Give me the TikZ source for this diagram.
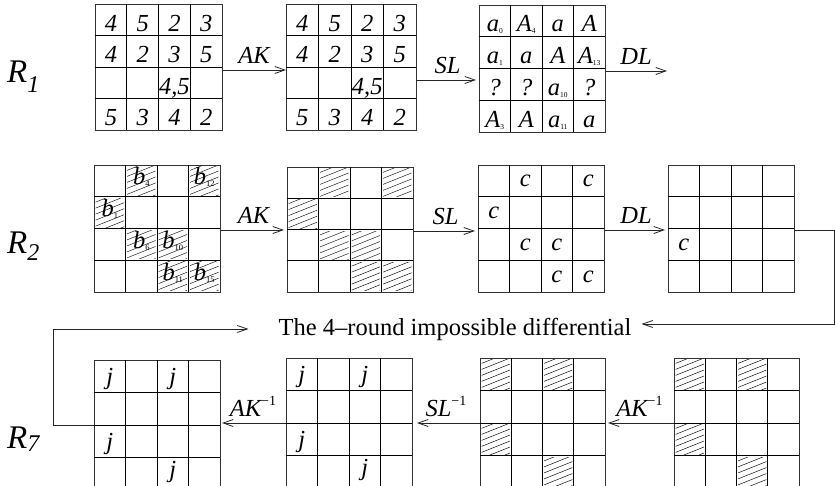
\documentclass[tikz,border=0pt]{standalone}
\usepackage{fontspec}
\setmainfont{Liberation Serif}
\usetikzlibrary{arrows.meta}

\newcommand\cellfont{\fontsize{24.5}{26}\selectfont\itshape}
\newcommand\sbs[1]{\raisebox{-0.08em}{\fontsize{7.5}{8}\selectfont\upshape #1}}
\newcommand\sbb[1]{\raisebox{-0.08em}{\fontsize{8.5}{9}\selectfont\upshape #1}}
\newcommand\spm[1]{\raisebox{0.42em}{\fontsize{14}{14}\selectfont\upshape #1}}

\tikzset{
  gridframe/.style={draw=black!80, line width=0.9pt, inner sep=0pt, outer sep=0pt},
  gridline/.style={draw=black, line width=0.8pt},
  hatchline/.style={draw=black, line width=0.45pt},
  celltext/.style={anchor=base, inner sep=0pt, font=\cellfont},
  arr/.style={draw=black!85, line width=0.8pt, shorten >=3pt,
    -{Straight Barb[length=10pt,width=7pt,line width=0.8pt]}},
  lbl/.style={anchor=base, inner sep=0pt, yshift=7pt, font=\cellfont},
  rlab/.style={anchor=base west, inner sep=0pt, font=\fontsize{33}{33}\selectfont\itshape},
}

% grid: name, x, y (top-left, px), cell width, cell height, baseline offset
\newcommand\mkgrid[6]{%
  \gdef\gname{#1}\gdef\gx{#2}\gdef\gy{#3}\gdef\gw{#4}\gdef\gh{#5}\gdef\goff{#6}%
  \node[gridframe, anchor=north west, minimum width={4*#4pt}, minimum height={4*#5pt}] (#1) at (#2,#3) {};
  \foreach \i in {1,2,3}{
    \draw[gridline] ({#2+\i*#4},#3) -- ({#2+\i*#4},{#3+4*#5});
    \draw[gridline] (#2,{#3+\i*#5}) -- ({#2+4*#4},{#3+\i*#5});
  }
}
% cell text: row, column, text
\newcommand\ct[3]{%
  \node[celltext] (\gname-#1-#2) at ({\gx+(#2+0.5)*\gw},{\gy+(#1+0.5)*\gh+\goff}) {#3};
}
% cell text with an explicit baseline offset: row, column, offset, text
\newcommand\cto[4]{%
  \node[celltext] (\gname-#1-#2) at ({\gx+(#2+0.5)*\gw},{\gy+(#1+0.5)*\gh+#3}) {#4};
}
% hatched cell: row, column
\newcommand\hc[2]{%
  \begin{scope}
    \clip ({\gx+#2*\gw+1.5},{\gy+#1*\gh+1.5}) rectangle ({\gx+(#2+1)*\gw-1.5},{\gy+(#1+1)*\gh-1.5});
    \foreach \k in {0,...,8}{
      \draw[hatchline] ({\gx+#2*\gw},{\gy+#1*\gh+\k*6}) -- ++(\gw,{-0.4*\gw});
    }
  \end{scope}
}

\begin{document}
\begin{tikzpicture}[x=1pt,y=-1pt]
\useasboundingbox (0,0) rectangle (835,485);

% round labels
\node[rlab] (r1) at (7,82) {R\raisebox{-10pt}{\fontsize{24}{24}\selectfont 1}};
\node[rlab] (r2) at (7,253) {R\raisebox{-7pt}{\fontsize{24}{24}\selectfont 2}};
\node[rlab] (r7) at (7,448) {R\raisebox{-3pt}{\fontsize{24}{24}\selectfont 7}};

% ---------- row 1 ----------
\mkgrid{g11}{95}{4}{31.75}{31.5}{11.5}
\ct{0}{0}{4}\ct{0}{1}{5}\ct{0}{2}{2}\ct{0}{3}{3}
\ct{1}{0}{4}\ct{1}{1}{2}\ct{1}{2}{3}\ct{1}{3}{5}
\ct{2}{2}{4,5}
\ct{3}{0}{5}\ct{3}{1}{3}\ct{3}{2}{4}\ct{3}{3}{2}

\mkgrid{g12}{286}{4}{32.5}{31.5}{11.5}
\ct{0}{0}{4}\ct{0}{1}{5}\ct{0}{2}{2}\ct{0}{3}{3}
\ct{1}{0}{4}\ct{1}{1}{2}\ct{1}{2}{3}\ct{1}{3}{5}
\ct{2}{2}{4,5}
\ct{3}{0}{5}\ct{3}{1}{3}\ct{3}{2}{4}\ct{3}{3}{2}

\mkgrid{g13}{479}{5}{31.5}{31.75}{11}
\ct{0}{0}{a\sbs{0}}\ct{0}{1}{A\sbs{4}}\ct{0}{2}{a}\ct{0}{3}{A}
\ct{1}{0}{a\sbs{1}}\ct{1}{1}{a}\ct{1}{2}{A}\ct{1}{3}{A\sbs{13}}
\ct{2}{0}{?}\ct{2}{1}{?}\ct{2}{2}{a\sbs{10}}\ct{2}{3}{?}
\ct{3}{0}{A\sbs{3}}\ct{3}{1}{A}\ct{3}{2}{a\sbs{11}}\ct{3}{3}{a}

\coordinate (dlend) at (667,71);
\draw[arr, shorten >=0pt] ([yshift=-3pt]g11.east) -- node[lbl] (l11) {AK} ([yshift=-3pt]g11.east -| g12.west);
\draw[arr] ([yshift=-13pt]g12.east) -- node[lbl] (l12) {SL} ([yshift=-13pt]g12.east -| g13.west);
\draw[arr, shorten >=0pt] ([yshift=-2.5pt]g13.east) -- node[lbl] (l13) {DL} (dlend);

% ---------- row 2 ----------
\mkgrid{g21}{94}{165}{31.5}{31.75}{4}
\hc{0}{1}\hc{0}{3}\hc{1}{0}\hc{2}{1}\hc{2}{2}\hc{3}{2}\hc{3}{3}
\ct{0}{1}{b\sbb{4}}\ct{0}{3}{b\sbb{12}}\ct{1}{0}{b\sbb{1}}
\ct{2}{1}{b\sbb{6}}\ct{2}{2}{b\sbb{10}}\ct{3}{2}{b\sbb{11}}\ct{3}{3}{b\sbb{15}}

\mkgrid{g22}{287}{167}{31.5}{31.25}{0}
\hc{0}{1}\hc{0}{3}\hc{1}{0}\hc{2}{1}\hc{2}{2}\hc{3}{2}\hc{3}{3}

\mkgrid{g23}{478}{165}{31.5}{31.75}{6}
\ct{0}{1}{c}\ct{0}{3}{c}\ct{1}{0}{c}\ct{2}{1}{c}\ct{2}{2}{c}\ct{3}{2}{c}\ct{3}{3}{c}

\mkgrid{g24}{668}{165}{31.5}{31.75}{6}
\ct{2}{0}{c}

\draw[arr] ([yshift=-1.5pt]g21.east) -- node[lbl] (l21) {AK} ([yshift=-1.5pt]g21.east -| g22.west);
\draw[arr] ([yshift=-1.5pt]g22.east) -- node[lbl] (l22) {SL} ([yshift=-1.5pt]g22.east -| g23.west);
\draw[arr] ([yshift=-1.5pt]g23.east) -- node[lbl] (l23) {DL} ([yshift=-1.5pt]g23.east -| g24.west);

% ---------- impossible differential ----------
\node[anchor=base, inner sep=0pt, font=\fontsize{24.5}{26}\selectfont] (imp) at (455,335) {The 4–round impossible differential};

% ---------- row 3 ----------
\mkgrid{g31}{94}{360}{31.5}{32.5}{8.5}
\ct{0}{0}{j}\ct{0}{2}{j}\ct{2}{0}{j}\cto{3}{2}{4}{j}

\mkgrid{g32}{286}{358}{31.5}{32.5}{8.5}
\ct{0}{0}{j}\ct{0}{2}{j}\ct{2}{0}{j}\cto{3}{2}{4}{j}

\mkgrid{g33}{480}{358}{31.25}{32.5}{0}
\hc{0}{0}\hc{0}{2}\hc{2}{0}\hc{3}{2}

\mkgrid{g34}{674}{358}{31.25}{32.5}{0}
\hc{0}{0}\hc{0}{2}\hc{2}{0}\hc{3}{2}

\draw[arr] (g34.west) -- node[lbl] (l33) {AK\spm{−1}} (g34.west -| g33.east);
\draw[arr, shorten >=5pt] (g33.west) -- node[lbl] (l32) {SL\spm{−1}} (g33.west -| g32.east);
\draw[arr, shorten >=2pt] (g32.west) -- node[lbl] (l31) {AK\spm{−1}} (g32.west -| g31.east);

% ---------- connectors round the differential ----------
\draw[arr, shorten >=0pt] (g31.west) -- ++(-41,0) |- ([xshift=-30pt]imp.west);
\draw[arr, shorten >=0pt] ([yshift=-1.5pt]g24.east) -- ++(40,0) |- ([xshift=10pt,yshift=5pt]imp.east);

\end{tikzpicture}
\end{document}
